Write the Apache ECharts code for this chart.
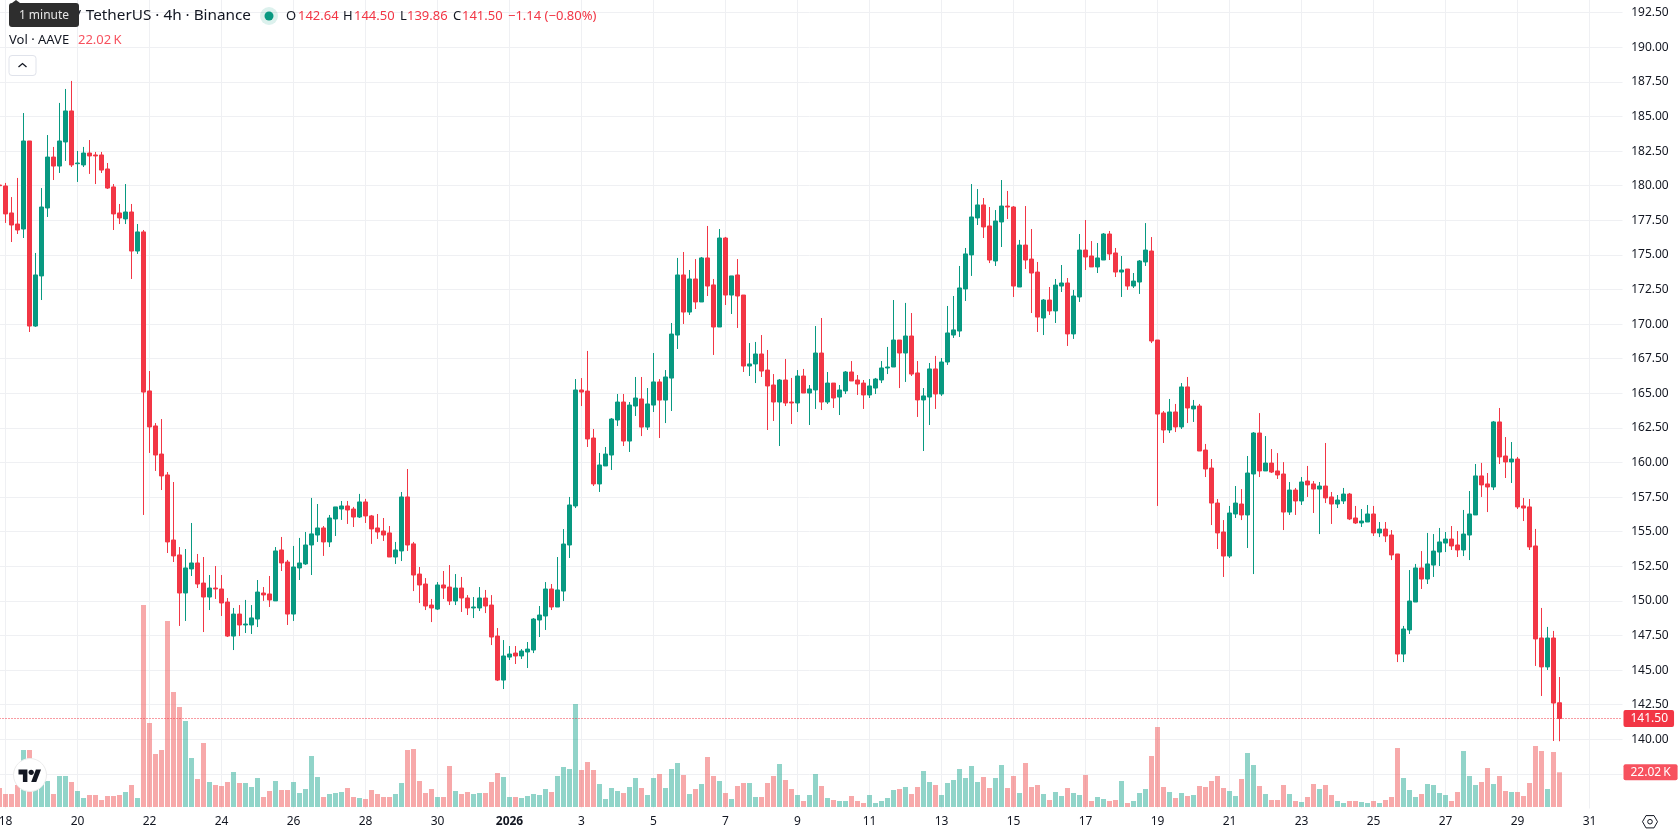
<!DOCTYPE html>
<html>
<head>
<meta charset="utf-8">
<title>AAVE / TetherUS 4h</title>
<style>
  html, body { margin: 0; padding: 0; background: #fff; overflow: hidden; }
  /* The canvas runs past the frame so bars can be cut off at the left and top edges. */
  #frame { position: relative; width: 1678px; height: 835px; overflow: hidden; }
  #chart { position: absolute; left: -30px; top: -30px; width: 1708px; height: 865px; }
</style>
<script src="https://cdn.jsdelivr.net/npm/echarts@6/dist/echarts.min.js"></script>
</head>
<body>
<div id="frame"><div id="chart"></div></div>
<script>
// 4h AAVE/USDT candles, first bar 17 Dec 2025 20:00, one row per ten bars.
const opens = [
  180.05,179.98,178.03,177.23,176.87,183.23,169.86,173.48,178.39,182.07,
  181.42,183.16,185.40,181.59,181.50,182.36,182.22,182.22,181.21,179.91,
  178.03,177.60,178.10,175.28,176.66,165.17,162.64,160.61,159.10,154.40,
  153.32,150.57,152.31,152.74,151.29,150.28,150.93,150.86,149.92,147.46,
  149.05,148.26,148.26,148.69,150.57,150.50,150.00,153.68,152.81,149.05,
  152.38,152.67,154.04,154.76,155.27,154.26,155.92,156.64,156.86,156.64,
  156.06,157.15,156.14,155.27,155.05,154.91,153.17,153.61,157.51,154.12,
  151.94,151.22,149.70,149.41,151.15,151.00,149.99,150.93,150.21,149.49,
  149.49,150.21,149.70,147.46,144.28,145.94,146.23,146.02,146.31,146.45,
  148.62,148.91,150.86,149.56,150.71,154.04,156.86,165.24,165.16,161.77,
  158.45,159.75,160.54,163.07,164.37,161.55,164.08,164.59,162.56,164.15,
  165.82,164.51,166.10,169.21,173.55,170.87,173.26,171.60,174.78,172.83,
  169.79,176.22,172.10,173.55,172.10,166.97,167.12,167.84,166.68,165.60,
  164.37,165.96,164.37,164.30,166.25,165.02,165.24,167.91,164.37,165.74,
  164.73,165.17,166.54,165.96,165.74,164.88,165.38,165.96,166.83,166.90,
  168.85,167.91,169.14,166.47,164.52,164.73,166.76,164.95,167.26,169.21,
  169.50,172.54,175.00,177.67,178.61,177.09,174.56,177.38,178.53,178.46,
  172.68,175.71,174.70,173.76,170.44,171.74,170.95,172.75,172.97,169.29,
  171.96,175.35,174.92,174.13,174.63,176.51,175.14,173.76,173.98,172.75,
  173.04,174.49,175.28,168.85,163.58,162.35,163.65,162.57,165.46,163.87,
  164.08,160.90,159.60,157.07,154.98,153.24,156.28,157.00,156.21,159.17,
  162.13,159.39,159.96,159.39,159.17,156.42,158.01,157.22,158.66,158.45,
  158.08,158.30,157.51,157.00,157.22,157.72,155.99,155.63,155.70,156.28,
  154.91,155.19,154.76,153.39,146.16,147.90,149.92,152.38,151.58,152.59,
  153.53,154.18,154.47,154.04,153.68,154.76,156.21,159.03,158.45,158.23,
  162.93,160.47,160.04,160.25,156.86,156.79,153.97,147.32,145.23,147.32,
  142.64
];
const highs = [
  180.10,180.20,179.18,180.56,185.25,183.23,175.14,179.83,183.66,182.80,
  185.98,186.99,187.57,182.51,182.80,183.30,182.44,182.44,181.64,180.12,
  178.68,180.12,178.68,177.23,176.80,166.61,162.85,163.14,159.31,158.59,
  153.89,153.75,155.63,153.39,153.17,151.87,152.52,151.87,150.21,149.49,
  149.70,150.07,149.70,151.51,151.00,151.80,153.89,154.62,152.96,153.97,
  154.55,154.98,157.44,157.00,155.41,156.21,156.79,157.22,157.22,156.79,
  157.73,157.37,156.21,156.28,155.99,155.41,154.26,157.87,159.53,154.26,
  152.45,151.65,150.14,151.36,152.16,152.59,151.94,151.73,150.42,150.28,
  151.00,150.79,150.42,148.04,147.17,146.74,146.74,146.52,147.03,148.76,
  149.63,151.36,151.22,153.17,155.19,157.51,166.03,166.10,168.06,162.42,
  160.69,161.12,163.21,164.95,164.95,164.37,166.18,166.18,165.38,167.91,
  166.03,166.68,170.08,174.78,175.21,173.91,174.70,174.85,177.09,173.26,
  176.87,176.30,173.48,174.70,172.10,168.63,168.71,169.21,168.13,166.39,
  166.03,167.48,166.11,166.68,166.76,165.60,169.86,170.44,166.54,165.74,
  165.60,166.61,167.33,166.32,165.96,166.03,166.11,167.33,168.35,171.74,
  168.85,171.53,170.80,167.33,165.38,167.19,167.70,167.55,171.31,172.03,
  174.20,175.50,180.12,179.76,179.11,178.46,178.24,180.41,179.62,178.53,
  176.08,178.53,176.87,174.49,171.81,172.68,173.26,174.27,173.33,172.47,
  176.51,177.52,176.00,175.86,176.58,176.73,175.50,174.92,173.98,173.69,
  174.63,177.30,176.29,168.85,163.72,164.59,164.23,165.74,166.18,164.52,
  164.23,161.34,160.25,157.36,155.84,156.86,158.30,158.08,160.47,162.20,
  163.57,161.91,160.97,160.68,160.03,158.59,158.16,158.95,159.75,158.66,
  158.59,161.41,157.87,157.65,158.16,157.80,156.86,156.64,156.93,156.86,
  155.70,155.70,155.12,153.39,148.19,152.23,152.67,153.60,154.91,154.83,
  155.27,154.98,155.41,155.05,156.57,157.94,159.89,159.97,159.24,163.00,
  163.94,161.84,161.48,160.40,157.44,157.36,155.20,149.49,148.12,147.83,
  144.50
];
const lows = [
  179.95,177.31,175.93,176.51,176.22,169.43,169.80,171.74,177.74,180.41,
  180.92,181.79,181.35,180.27,181.35,180.85,180.12,180.92,179.76,176.80,
  177.23,177.23,173.26,175.07,156.21,160.69,159.39,158.01,153.46,152.81,
  148.19,148.55,151.80,150.93,147.75,149.34,150.14,148.91,147.39,146.45,
  147.46,147.68,147.61,148.11,150.00,149.56,150.00,152.16,148.26,148.55,
  151.51,152.60,151.87,154.26,153.25,153.89,154.69,155.85,155.56,155.34,
  155.99,155.63,154.12,154.48,154.33,153.17,152.67,152.88,153.61,150.71,
  149.85,149.34,148.47,149.34,150.14,149.70,149.70,149.20,148.98,148.76,
  149.27,149.12,146.81,144.21,143.63,145.73,145.44,145.80,145.15,146.23,
  147.39,147.90,149.34,149.56,149.99,153.10,156.71,164.08,161.12,158.30,
  157.87,159.75,159.46,162.64,161.19,160.76,163.36,161.91,162.35,163.65,
  161.77,162.85,163.72,168.20,170.01,170.66,171.09,171.60,172.03,167.77,
  169.79,171.38,170.73,169.72,166.54,166.25,165.74,166.18,162.35,163.00,
  161.19,164.08,162.78,163.65,165.02,162.71,163.87,163.79,164.23,163.94,
  163.43,164.95,165.89,164.88,163.87,164.66,164.95,165.74,166.39,166.90,
  165.38,165.82,166.25,163.29,160.83,162.71,163.87,164.81,167.05,169.00,
  169.07,171.67,173.48,177.16,176.22,174.41,174.20,175.57,177.59,171.96,
  172.68,173.98,170.80,169.43,169.21,170.66,170.08,172.32,168.42,168.93,
  171.60,173.91,174.13,173.69,174.63,174.63,173.40,171.96,172.47,172.61,
  172.18,174.20,168.63,156.86,161.41,162.13,162.20,162.42,162.85,162.93,
  160.83,158.95,155.48,153.75,151.73,153.10,155.99,155.84,153.82,151.94,
  158.95,159.39,159.24,158.81,155.12,156.21,156.21,156.93,157.51,156.35,
  154.83,157.07,155.56,156.71,157.00,155.84,155.56,155.34,155.70,154.69,
  154.61,154.25,152.95,145.58,145.58,147.61,149.92,150.86,151.22,151.73,
  152.52,153.53,153.68,153.17,153.24,152.95,156.21,157.51,156.42,158.01,
  159.89,158.88,158.52,156.64,155.77,153.68,145.30,143.13,145.01,139.88,
  139.86
];
const closes = [
  180.00,177.96,177.16,176.80,183.23,169.86,173.55,178.46,182.07,181.42,
  183.23,185.40,181.50,181.64,182.36,182.15,182.15,181.13,179.83,177.96,
  177.67,178.10,175.28,176.66,165.09,162.57,160.54,159.03,154.26,153.25,
  150.57,152.38,152.74,151.22,150.28,150.93,150.86,149.85,147.46,149.05,
  148.26,148.33,148.77,150.64,150.43,150.07,153.61,152.74,149.05,152.45,
  152.74,154.04,154.84,155.27,154.26,155.99,156.79,156.86,156.57,156.06,
  157.15,156.14,155.20,154.98,154.76,153.17,153.68,157.51,154.04,151.87,
  151.15,149.63,149.49,151.15,150.93,149.99,150.93,150.21,149.49,149.56,
  150.21,149.63,147.39,144.28,146.02,146.16,146.02,146.38,146.52,148.69,
  148.98,150.86,149.56,150.79,154.11,156.93,165.24,165.09,161.70,158.45,
  159.82,160.61,163.14,164.37,161.55,164.15,164.66,162.56,164.23,165.82,
  164.51,166.18,169.28,173.55,170.87,173.26,171.60,174.78,172.75,169.79,
  176.22,172.10,173.48,172.03,166.97,167.12,167.84,166.61,165.53,164.37,
  165.96,164.30,164.30,166.25,165.02,165.31,167.91,164.37,165.74,164.66,
  165.24,166.54,165.89,165.67,164.88,165.53,166.03,166.83,166.90,168.85,
  167.91,169.14,166.39,164.52,164.81,166.76,164.95,167.26,169.36,169.58,
  172.61,175.07,177.74,178.61,177.02,174.63,177.45,178.53,178.46,172.75,
  175.71,174.63,173.69,170.51,171.74,170.95,172.82,172.97,169.29,172.03,
  175.35,174.85,174.13,174.78,176.51,175.07,173.76,173.91,172.75,173.11,
  174.56,175.35,168.78,163.50,162.35,163.65,162.57,165.46,163.94,164.08,
  160.83,159.53,157.07,154.91,153.24,156.35,157.07,156.21,159.24,162.13,
  159.39,159.96,159.31,159.10,156.42,158.01,157.22,158.59,158.38,158.08,
  158.30,157.44,157.00,157.29,157.72,155.92,155.63,155.77,156.28,154.91,
  155.19,154.69,153.32,146.16,147.97,149.99,152.38,151.58,152.67,153.60,
  154.26,154.47,153.97,153.68,154.83,156.28,159.03,158.38,158.23,162.93,
  160.40,160.04,160.25,156.79,156.71,153.90,147.25,145.23,147.32,142.62,
  141.50
];
// Traded volume in thousands of AAVE.
const volumes = [
  12.06,8.25,8.25,13.96,36.17,36.17,12.9,15.0,16.5,8.25,
  19.67,19.67,15.86,10.15,5.71,7.61,7.61,4.44,6.98,6.98,
  7.61,9.52,13.96,5.71,128.17,53.3,33.63,36.17,118.02,72.97,
  63.45,54.57,31.09,17.77,40.61,15.86,13.96,13.32,15.86,22.21,
  15.23,15.23,12.69,18.4,6.35,10.15,16.5,10.79,10.79,15.86,
  8.88,11.42,32.36,19.04,6.35,8.25,8.88,9.52,12.06,6.35,
  5.71,5.08,10.79,8.25,6.35,6.35,8.25,15.23,36.17,36.8,
  16.5,8.88,11.42,6.35,6.35,26.01,10.15,8.25,9.52,8.25,
  8.88,8.88,15.86,21.57,19.04,6.35,6.35,5.71,6.98,8.25,
  7.61,11.42,9.52,19.67,25.38,24.11,65.35,23.48,28.55,23.48,
  14.59,5.08,12.06,10.15,8.88,12.69,18.4,12.06,7.61,18.4,
  20.94,12.06,24.11,27.92,20.3,8.25,11.42,14.59,31.73,19.67,
  16.5,8.88,5.08,13.32,15.23,15.23,6.35,6.35,15.23,19.67,
  27.28,17.13,11.42,7.61,3.81,7.61,20.94,13.32,5.71,4.44,
  3.81,3.81,6.98,3.81,2.54,7.61,2.54,3.81,5.71,10.79,
  11.42,12.69,8.25,12.69,22.84,15.86,13.96,7.61,15.23,17.13,
  24.11,18.4,26.01,15.86,19.04,12.06,18.4,26.65,12.06,19.67,
  8.88,27.92,12.69,13.96,8.25,4.44,9.52,6.98,12.06,8.88,
  7.61,20.3,3.81,6.35,5.08,3.81,4.44,16.5,2.54,3.81,
  8.88,11.42,32.36,50.76,12.69,9.52,5.71,8.88,6.98,7.61,
  13.32,12.69,16.5,19.67,12.06,10.15,6.98,17.77,34.26,26.65,
  13.32,8.25,4.44,4.44,13.96,8.25,3.81,3.17,6.35,14.59,
  11.42,13.96,7.61,3.81,2.54,3.81,3.81,3.17,2.54,3.81,
  2.54,4.44,6.35,37.44,18.4,10.79,6.35,8.25,14.59,13.96,
  8.88,7.61,3.81,9.52,35.53,19.67,13.96,15.86,24.75,14.59,
  19.67,10.15,9.52,9.52,6.98,15.23,38.7,35.53,11.42,34.9,
  22.02
];
const priceTicks = { min: 135, max: 195, step: 2.5, lowestLabel: 140, highestLabel: 192.5 };
const volumeMax = 140;
const firstBar = Date.UTC(2025, 11, 17, 20);
const slotCount = 271;              // traded bars plus the empty run-up to 31 Jan

const UP = '#089981', DOWN = '#F23645';
const VOL_UP = 'rgba(35,169,147,0.5)', VOL_DOWN = 'rgba(239,83,85,0.5)';
const INK = '#131722';
const UI_FONT = '"Noto Sans", sans-serif';
const BLEED = 30;                   // canvas overhang past the frame, see #chart

const categories = Array.from({ length: slotCount }, (_, i) => firstBar + i * 4 * 3600 * 1000);
const isDateTick = (i) => {
  const d = new Date(categories[i]);
  if (d.getUTCHours() !== 0) return false;
  const days = Math.round((categories[i] - Date.UTC(2025, 11, 18)) / 86400000);
  return days % 2 === 0;
};
const dateLabel = (ms) => {
  const d = new Date(+ms);
  if (d.getUTCMonth() === 0 && d.getUTCDate() === 1) return '{year|' + d.getUTCFullYear() + '}';
  return String(d.getUTCDate());
};

const last = opens.length - 1;
const candleData = opens.map((o, i) => [o, closes[i], lows[i], highs[i]]);
const volumeData = volumes.map((v, i) => ({
  value: v,
  itemStyle: { color: closes[i] >= opens[i] ? VOL_UP : VOL_DOWN }
}));

const text = (x, y, str, fill, size, align) => ({
  type: 'text', x, y, z: 30, silent: true,
  style: {
    text: str, fill, font: size + 'px ' + UI_FONT,
    align: align || 'left', textAlign: align || 'left',
    verticalAlign: 'middle', textVerticalAlign: 'middle'
  }
});

const change = closes[last] - opens[last];
const volumeText = volumes[last].toFixed(2) + '\u2009K';
const legend = [
  text(75.5, 15.5, '/', INK, 15.3),
  text(251, 15.5, 'TetherUS · 4h · Binance', INK, 15.3, 'right'),
  { type: 'circle', z: 30, silent: true, shape: { cx: 269, cy: 16, r: 9 }, style: { fill: 'rgba(8,153,129,0.14)' } },
  { type: 'circle', z: 31, silent: true, shape: { cx: 269, cy: 16, r: 4.5 }, style: { fill: UP } },
  text(286, 16, 'O', INK, 13),
  text(298, 16, opens[last].toFixed(2), DOWN, 13),
  text(343, 16, 'H', INK, 13),
  text(354, 16, highs[last].toFixed(2), DOWN, 13),
  text(400, 16, 'L', INK, 13),
  text(407, 16, lows[last].toFixed(2), DOWN, 13),
  text(453, 16, 'C', INK, 13),
  text(462, 16, closes[last].toFixed(2), DOWN, 13),
  text(508, 16, '−' + Math.abs(change).toFixed(2) + ' (−0.80%)', DOWN, 13),
  text(9, 40.5, 'Vol · AAVE', INK, 13),
  text(78, 40.5, volumeText, '#F7525F', 13),
  // collapse button
  { type: 'rect', z: 30, silent: true, shape: { x: 9, y: 55.5, width: 27, height: 20, r: 3 }, style: { fill: '#fff', stroke: '#e0e3eb', lineWidth: 1 } },
  { type: 'polyline', z: 31, silent: true, shape: { points: [[18.5, 67], [22.5, 63.5], [26.5, 67]] }, style: { stroke: INK, lineWidth: 1.3, fill: 'none' } },
  // hover hint over the symbol name
  { type: 'polygon', z: 40, silent: true, shape: { points: [[12, 3], [16, 0], [20, 3]] }, style: { fill: '#2e2e2e' } },
  { type: 'rect', z: 40, silent: true, shape: { x: 9, y: 3, width: 70, height: 24, r: 3 }, style: { fill: '#2e2e2e' } },
  Object.assign(text(44, 15.5, '1 minute', '#e6e6e6', 12, 'center'), { z: 41 }),
  // brand badge
  { type: 'circle', z: 30, silent: true, shape: { cx: 30, cy: 775, r: 16.5 }, style: { fill: '#fff', stroke: '#ececec', lineWidth: 1 } },
  { type: 'polygon', z: 31, silent: true, shape: { points: [[27.4, 782], [22.9, 782], [22.9, 774.4], [18.5, 774.4], [18.5, 769.5], [27.4, 769.5]] }, style: { fill: INK } },
  { type: 'polygon', z: 31, silent: true, shape: { points: [[36.25, 782], [31.2, 782], [35.9, 769.5], [41, 769.5]] }, style: { fill: INK } },
  { type: 'circle', z: 31, silent: true, shape: { cx: 31.2, cy: 772.3, r: 2.6 }, style: { fill: INK } },
  // settings icon
  { type: 'polygon', z: 30, silent: true, shape: { points: [[1642.5, 821.7], [1646, 815.6], [1654, 815.6], [1657.5, 821.7], [1654, 827.9], [1646, 827.9]] }, style: { fill: 'none', stroke: INK, lineWidth: 1 } },
  { type: 'circle', z: 30, silent: true, shape: { cx: 1650, cy: 821.7, r: 2.3 }, style: { fill: 'none', stroke: INK, lineWidth: 1 } }
];

const priceGrid = { left: BLEED - 3.5, width: 1626, top: BLEED - 21.9, height: 830.4 };
const volumeGrid = { left: BLEED - 3.5, width: 1626, top: BLEED + 586.4, height: 220.6 };

const chart = echarts.init(document.getElementById('chart'), null, { renderer: 'canvas' });
chart.setOption({
  animation: false,
  backgroundColor: '#fff',
  grid: [priceGrid, volumeGrid],
  xAxis: [
    {
      type: 'category', gridIndex: 0, data: categories, boundaryGap: true,
      axisLine: { show: false }, axisTick: { show: false, alignWithLabel: true },
      axisLabel: {
        interval: (i) => isDateTick(i), formatter: dateLabel, margin: 7,
        color: INK, fontFamily: UI_FONT, fontSize: 12, hideOverlap: false,
        rich: { year: { fontWeight: 'bold', color: INK, fontFamily: UI_FONT, fontSize: 12 } }
      },
      splitLine: { show: true, interval: (i) => isDateTick(i), alignWithLabel: true, lineStyle: { color: '#eff0f3', width: 1 } }
    },
    {
      type: 'category', gridIndex: 1, data: categories, boundaryGap: true,
      axisLine: { show: false }, axisTick: { show: false }, axisLabel: { show: false }, splitLine: { show: false }
    }
  ],
  yAxis: [
    {
      type: 'value', gridIndex: 0, position: 'right', scale: true,
      min: priceTicks.min, max: priceTicks.max, interval: priceTicks.step,
      axisLine: { show: false }, axisTick: { show: false },
      axisLabel: {
        margin: 8.7, color: INK, fontFamily: UI_FONT, fontSize: 12,
        formatter: (v) => (v < priceTicks.lowestLabel || v > priceTicks.highestLabel ? '' : v.toFixed(2))
      },
      splitLine: { show: true, showMinLine: false, showMaxLine: false, lineStyle: { color: '#eff0f3', width: 1 } }
    },
    {
      type: 'value', gridIndex: 1, position: 'right', min: 0, max: volumeMax,
      axisLine: { show: false }, axisTick: { show: false }, axisLabel: { show: false }, splitLine: { show: false }
    }
  ],
  series: [
    {
      name: 'Volume', type: 'bar', xAxisIndex: 1, yAxisIndex: 1, data: volumeData,
      barWidth: 5, z: 1, silent: true,
      markLine: {
        silent: true, symbol: 'none', animation: false,
        lineStyle: { color: 'rgba(0,0,0,0)', width: 1 },
        data: [{ yAxis: volumes[last] }],
        label: {
          position: 'end', distance: 1, color: '#fff', fontFamily: UI_FONT, fontSize: 12,
          backgroundColor: '#F7525F', padding: [2, 7, 2, 7], borderRadius: 2,
          formatter: volumeText
        }
      }
    },
    {
      name: 'AAVE/USDT', type: 'candlestick', xAxisIndex: 0, yAxisIndex: 0, data: candleData,
      barWidth: 4, z: 2, silent: true,
      itemStyle: { color: UP, color0: DOWN, borderColor: UP, borderColor0: DOWN, borderWidth: 1 },
      markLine: {
        silent: true, symbol: 'none', animation: false, z: 5,
        lineStyle: { color: DOWN, type: [1, 2], width: 1 },
        data: [{ yAxis: closes[last] }],
        label: {
          position: 'end', distance: 1, color: '#fff', fontFamily: UI_FONT, fontSize: 12,
          backgroundColor: DOWN, padding: [2, 6, 3, 7], borderRadius: 2,
          formatter: closes[last].toFixed(2)
        }
      }
    }
  ],
  graphic: { elements: [{ type: 'group', x: BLEED, y: BLEED, children: legend }] }
});
</script>
</body>
</html>
